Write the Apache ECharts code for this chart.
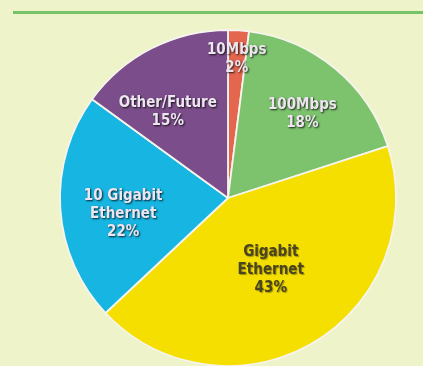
<!DOCTYPE html>
<html><head><meta charset="utf-8">
<script src="https://cdn.jsdelivr.net/npm/echarts@6/dist/echarts.min.js"></script>
<style>html,body{margin:0;padding:0;background:#EEF3C9;}#c{width:423px;height:366px;}</style>
</head><body><div id="c"></div>
<script>
const categories = ['10Mbps', '100Mbps', 'Gigabit\nEthernet', '10 Gigabit\nEthernet', 'Other/Future'];
const shares = [2, 18, 43, 22, 15];
const colors = ['#E4664F', '#7DC36E', '#F5DF00', '#17B5E2', '#7B4D8A'];
// label placement: radial distance (px) and angle tweak (deg) per slice
const labelRadius = [139, 112, 84, 106, 105];
const labelAngleTweak = [0, 2, 0, -5, -8];

const CX = 228, CY = 198, R = 168;
const chart = echarts.init(document.getElementById('c'), null, {renderer: 'canvas'});
const total = shares.reduce((a, b) => a + b, 0);
const midAngles = [];
let acc = 0;
shares.forEach(v => { midAngles.push((acc + v / 2) / total * 360); acc += v; });

const font = "'DejaVu Sans Condensed', 'Liberation Sans Narrow', sans-serif";
chart.setOption({
  backgroundColor: '#EEF3C9',
  animation: false,
  graphic: [{
    type: 'line', shape: {x1: 13, y1: 12.5, x2: 423, y2: 12.5},
    style: {stroke: '#78C36A', lineWidth: 3}
  }],
  series: [{
    type: 'pie',
    center: [CX, CY],
    radius: R,
    startAngle: 90,
    clockwise: true,
    itemStyle: {borderColor: '#F6F4EC', borderWidth: 1.8},
    label: {
      show: true, position: 'inside',
      formatter: p => p.name + '\n' + p.value + '%',
      fontFamily: font, fontSize: 15, fontWeight: 'bold', lineHeight: 18,
      color: '#EDE6F0',
      textShadowColor: 'rgba(0,0,0,0.8)', textShadowBlur: 2,
      textShadowOffsetX: 1, textShadowOffsetY: 1
    },
    labelLine: {show: false},
    labelLayout: function (p) {
      const i = p.dataIndex;
      const a = (midAngles[i] + labelAngleTweak[i]) * Math.PI / 180;
      const tx = CX + labelRadius[i] * Math.sin(a);
      const ty = CY - labelRadius[i] * Math.cos(a);
      const lx = p.labelRect.x + p.labelRect.width / 2;
      const ly = p.labelRect.y + p.labelRect.height / 2;
      return {dx: tx - lx, dy: ty - ly};
    },
    data: categories.map((c, i) => ({
      name: c, value: shares[i],
      itemStyle: {color: colors[i]},
      label: i === 2 ? {color: '#4A4420', textShadowColor: 'rgba(0,0,0,0.35)', textShadowBlur: 1} : undefined
    }))
  }]
});
</script></body></html>
